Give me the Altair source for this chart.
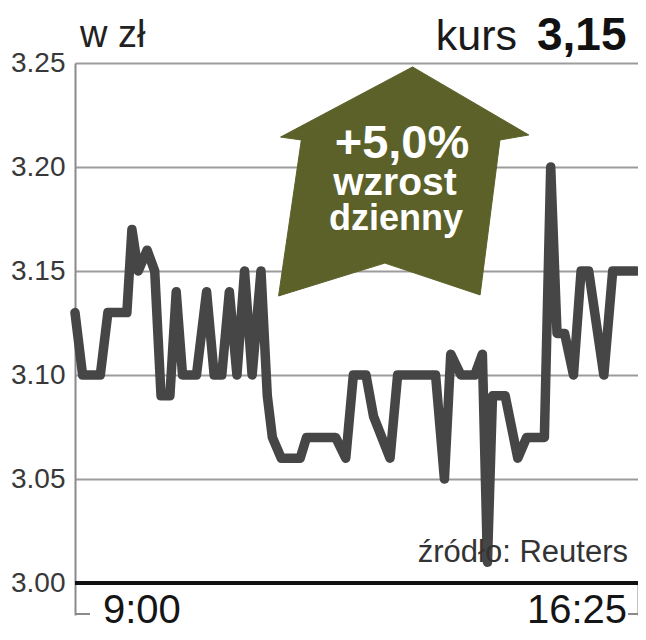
import altair as alt
import pandas as pd

# price line (minutes after 9:00, price in zł)
minutes = [0, 6, 20, 26, 41, 45, 50, 57, 63, 68,
           75, 80, 85, 96, 104, 110, 116, 122, 128, 134,
           140, 147, 152, 156, 163, 178, 183, 206, 214, 220,
           230, 236, 249, 255, 285, 292, 297, 305, 316, 322,
           326, 330, 340, 350, 357, 371, 376, 381, 387, 394,
           400, 406, 418, 425, 444]
prices = [3.13, 3.10, 3.10, 3.13, 3.13, 3.17, 3.15, 3.16, 3.15, 3.09,
          3.09, 3.14, 3.10, 3.10, 3.14, 3.10, 3.10, 3.14, 3.10, 3.15,
          3.10, 3.15, 3.09, 3.07, 3.06, 3.06, 3.07, 3.07, 3.06, 3.10,
          3.10, 3.08, 3.06, 3.10, 3.10, 3.05, 3.11, 3.10, 3.10, 3.11,
          3.01, 3.09, 3.09, 3.06, 3.07, 3.07, 3.20, 3.12, 3.12, 3.10,
          3.15, 3.15, 3.10, 3.15, 3.15]

y_ticks = [3.00, 3.05, 3.10, 3.15, 3.20, 3.25]
time_ticks = [0, 445]
time_labels = ["9:00", "16:25"]

# up-arrow annotation outline (data units)
arrow_minutes = [266.8, 358.7, 335.9, 320.2, 244.9, 160.9, 178.9, 162.5, 266.8]
arrow_prices = [3.2481, 3.2154, 3.2130, 3.1385, 3.1538, 3.1380, 3.2130, 3.2144, 3.2481]
arrow_lines = ["+5,0%", "wzrost", "dzienny"]

df = pd.DataFrame({"minute": minutes, "price": prices})
arrow_df = pd.DataFrame({"minute": arrow_minutes, "price": arrow_prices,
                         "i": list(range(len(arrow_minutes)))})
time_df = pd.DataFrame({"minute": time_ticks, "label": time_labels})

W, H = 563, 520
xs = alt.Scale(domain=[0, 445], nice=False, zero=False)
ys = alt.Scale(domain=[3.0, 3.25], nice=False, zero=False)

REG = "Liberation Sans"
OLIVE = "#5b6129"

line = alt.Chart(df).mark_line(
    color="#464646", strokeWidth=9.5, strokeJoin="round", strokeCap="round"
).encode(
    x=alt.X("minute:Q", scale=xs, axis=alt.Axis(
        values=time_ticks, labels=False, domain=False, grid=False,
        ticks=True, tickSize=32, tickColor="#8a8a8a", tickWidth=2, title=None)),
    y=alt.Y("price:Q", scale=ys, axis=alt.Axis(
        values=y_ticks, format=".2f", grid=True, gridColor="#9c9c9c", gridWidth=2,
        domain=True, domainColor="#8a8a8a", domainWidth=2, ticks=False,
        labelFont=REG, labelFontSize=28, labelColor="#383838", labelPadding=10,
        title=None)),
)

arrow = alt.Chart(arrow_df).mark_line(
    fill=OLIVE, stroke=OLIVE, strokeWidth=1
).encode(
    x=alt.X("minute:Q", scale=xs),
    y=alt.Y("price:Q", scale=ys),
    order=alt.Order("i:Q"),
)

one = alt.Data(values=[{"k": 0}])

baseline = alt.Chart(one).mark_rule(color="#111111", strokeWidth=4).encode(
    y=alt.datum(3.0, scale=ys), x=alt.value(0), x2=alt.value(W)
)
foot_left = alt.Chart(one).mark_rule(color="#8a8a8a", strokeWidth=2).encode(
    y=alt.value(551), x=alt.value(0), x2=alt.value(15)
)
foot_right = alt.Chart(one).mark_rule(color="#8a8a8a", strokeWidth=2).encode(
    y=alt.value(551), x=alt.value(W - 10), x2=alt.value(W)
)


def label(text, x, y, **kw):
    return alt.Chart(alt.Data(values=[{"t": text}])).mark_text(
        baseline="alphabetic", **kw
    ).encode(text="t:N", x=alt.value(x), y=alt.value(y))


t_left = alt.Chart(time_df).transform_filter("datum.minute == 0").mark_text(
    align="left", baseline="alphabetic", dx=28, font=REG, fontSize=40, color="#151515"
).encode(x=alt.X("minute:Q", scale=xs), y=alt.value(560), text="label:N")
t_right = alt.Chart(time_df).transform_filter("datum.minute == 445").mark_text(
    align="right", baseline="alphabetic", dx=-11, font=REG, fontSize=40, color="#151515"
).encode(x=alt.X("minute:Q", scale=xs), y=alt.value(560), text="label:N")

texts = [
    label("w zł", 5, -16, align="left", font=REG, fontSize=38, color="#222222"),
    label("kurs", 442, -13, align="right", font=REG, fontSize=43, color="#1a1a1a"),
    label("3,15", 462, -13, align="left", font=REG, fontSize=46, fontWeight="bold", color="#111111"),
    label("źródło: Reuters", 553, 499, align="right", font=REG, fontSize=31, color="#333333"),
    label(arrow_lines[0], 327, 95, align="center", font=REG, fontSize=47, fontWeight="bold", color="white"),
    label(arrow_lines[1], 320, 132, align="center", font=REG, fontSize=39, fontWeight="bold", color="white"),
    label(arrow_lines[2], 321, 167, align="center", font=REG, fontSize=36, fontWeight="bold", color="white"),
]

chart = alt.layer(
    arrow, line, baseline, foot_left, foot_right, t_left, t_right, *texts
).properties(
    width=W, height=H,
    autosize=alt.AutoSizeParams(type="none"),
    padding={"left": 67, "top": 55, "right": 0, "bottom": 49},
    background="white",
).configure_view(stroke=None)

chart.save("out.html", embed_options={"renderer": "svg", "actions": False})
